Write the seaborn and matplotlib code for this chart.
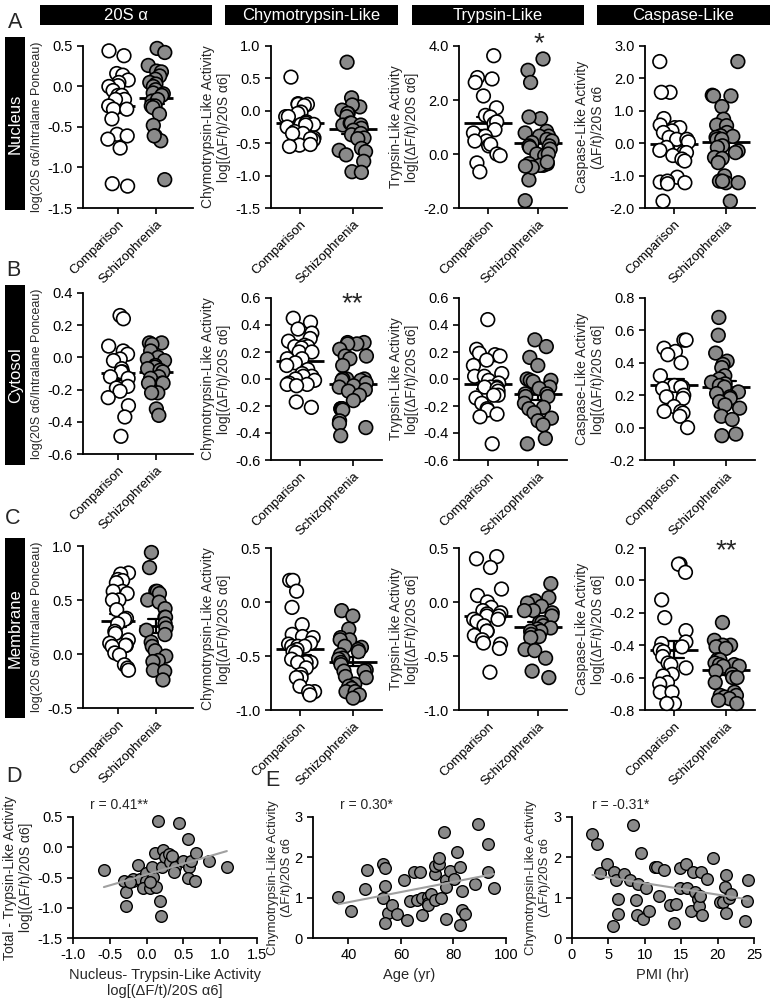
import numpy as np
import pandas as pd
import seaborn as sns
import matplotlib.pyplot as plt
from matplotlib.patches import Rectangle
from matplotlib.ticker import FormatStrFormatter

# groups / labels
groups = ['Comparison', 'Schizophrenia']
header_titles = ['20S α', 'Chymotrypsin-Like', 'Trypsin-Like', 'Caspase-Like']
row_names = ['Nucleus', 'Cytosol', 'Membrane']

# ---- Nucleus (row A)
nuc_20s_comp = [0.44, 0.38, 0.16, 0.14, 0.08, 0.05, 0.01, 0.0, -0.05, -0.11, -0.11, -0.16, -0.16, -0.24,
                -0.28, -0.28, -0.40, -0.59, -0.61, -0.65, -0.76, -1.23, -1.20]
nuc_20s_scz = [0.47, 0.42, 0.26, 0.19, 0.18, 0.13, 0.09, 0.05, 0.03, 0.0, -0.04, -0.08, -0.09, -0.11, -0.18,
               -0.16, -0.24, -0.24, -0.26, -0.34, -0.48, -0.61, -0.67, -0.61, -1.15]
nuc_chymo_comp = [0.52, 0.10, 0.11, 0.10, 0.08, -0.02, -0.04, -0.09, -0.09, -0.17, -0.21, -0.19, -0.21, -0.22,
                  -0.25, -0.32, -0.35, -0.35, -0.42, -0.45, -0.43, -0.53, -0.52, -0.55]
nuc_chymo_scz = [0.75, 0.20, 0.06, 0.09, 0.01, -0.04, -0.04, -0.09, -0.22, -0.19, -0.19, -0.22, -0.27, -0.30,
                 -0.37, -0.35, -0.42, -0.43, -0.58, -0.63, -0.61, -0.78, -0.68, -0.94, -0.95]
nuc_tryp_comp = [3.64, 2.83, 2.78, 2.65, 2.15, 1.71, 1.43, 1.37, 1.13, 1.19, 0.90, 0.78, 0.66, 0.48, 0.48,
                 0.30, 0.36, 0.0, -0.06, -0.33, -0.66]
nuc_tryp_scz = [3.52, 3.10, 2.65, 1.31, 1.37, 0.84, 0.66, 0.78, 0.66, 0.54, 0.48, 0.42, 0.30, 0.30, 0.18,
                0.24, 0.0, -0.06, 0.0, -0.36, -0.42, -0.36, -0.42, -0.96, -1.73, -0.50, -0.30, -0.45]
nuc_casp_comp = [2.52, 1.57, 1.57, 0.76, 0.56, 0.48, 0.48, 0.38, 0.33, 0.18, 0.12, 0.12, 0.04, -0.13, -0.22,
                 -0.29, -0.29, -0.38, -0.49, -0.55, -1.05, -1.22, -1.20, -1.17, -1.25, -1.79]
nuc_casp_scz = [2.52, 1.48, 1.46, 1.46, 1.13, 0.74, 0.56, 0.54, 0.33, 0.23, 0.21, 0.18, 0.12, 0.12, -0.08,
                -0.13, -0.24, -0.29, -0.44, -0.47, -0.60, -1.01, -1.17, -1.22, -1.22, -1.17, -1.79]

# ---- Cytosol (row B)
cyt_20s_comp = [0.26, 0.24, 0.07, 0.04, 0.02, -0.01, -0.02, -0.07, -0.09, -0.09, -0.12, -0.13, -0.18, -0.19,
                -0.21, -0.25, -0.30, -0.37, -0.49]
cyt_20s_scz = [0.09, 0.09, 0.08, 0.04, 0.0, -0.01, -0.02, -0.05, -0.06, -0.07, -0.08, -0.09, -0.12, -0.13,
               -0.16, -0.16, -0.16, -0.22, -0.22, -0.32, -0.36]
cyt_chymo_comp = [0.45, 0.42, 0.37, 0.34, 0.30, 0.28, 0.25, 0.24, 0.24, 0.23, 0.20, 0.20, 0.15, 0.15, 0.12,
                  0.10, 0.07, 0.04, 0.02, 0.02, 0.0, -0.01, -0.03, -0.04, -0.04, -0.05, -0.17, -0.21]
cyt_chymo_scz = [0.27, 0.27, 0.26, 0.26, 0.22, 0.17, 0.17, 0.15, 0.10, 0.0, 0.0, 0.0, -0.01, -0.01, -0.03,
                 -0.05, -0.06, -0.08, -0.09, -0.12, -0.16, -0.22, -0.22, -0.22, -0.23, -0.31, -0.33, -0.36, -0.42]
cyt_tryp_comp = [0.44, 0.22, 0.19, 0.18, 0.17, 0.14, 0.10, 0.04, 0.02, 0.02, -0.01, -0.03, -0.06, -0.06, -0.06,
                 -0.07, -0.09, -0.12, -0.12, -0.14, -0.18, -0.22, -0.23, -0.26, -0.28, -0.48]
cyt_tryp_scz = [0.29, 0.24, 0.16, 0.10, 0.0, -0.01, -0.01, -0.02, -0.06, -0.07, -0.11, -0.11, -0.13, -0.13,
                -0.18, -0.21, -0.22, -0.25, -0.29, -0.31, -0.34, -0.44, -0.48]
cyt_casp_comp = [0.54, 0.54, 0.49, 0.47, 0.45, 0.40, 0.32, 0.26, 0.25, 0.25, 0.24, 0.20, 0.19, 0.18, 0.13,
                 0.10, 0.10, 0.09, 0.07, 0.0]
cyt_casp_scz = [0.68, 0.57, 0.46, 0.41, 0.39, 0.37, 0.32, 0.30, 0.28, 0.27, 0.26, 0.25, 0.22, 0.21, 0.19,
                0.18, 0.16, 0.14, 0.12, 0.07, 0.05, -0.04, -0.05]

# ---- Membrane (row C)
mem_20s_comp = [0.75, 0.74, 0.69, 0.68, 0.66, 0.58, 0.58, 0.56, 0.50, 0.50, 0.41, 0.33, 0.32, 0.28, 0.21,
                0.19, 0.13, 0.10, 0.08, 0.08, 0.07, 0.01, -0.01, -0.10, -0.13, -0.15]
mem_20s_scz = [0.94, 0.80, 0.58, 0.58, 0.56, 0.50, 0.48, 0.42, 0.34, 0.34, 0.28, 0.24, 0.22, 0.18, 0.11,
               0.07, 0.03, -0.02, -0.06, -0.07, -0.15, -0.16, -0.24]
mem_chymo_comp = [0.20, 0.20, 0.10, -0.05, -0.21, -0.30, -0.32, -0.33, -0.38, -0.39, -0.41, -0.41, -0.41,
                  -0.44, -0.46, -0.47, -0.53, -0.56, -0.56, -0.56, -0.61, -0.67, -0.70, -0.70, -0.78, -0.83,
                  -0.83, -0.86]
mem_chymo_scz = [-0.08, -0.13, -0.25, -0.33, -0.35, -0.35, -0.41, -0.42, -0.44, -0.46, -0.49, -0.52, -0.53,
                 -0.56, -0.58, -0.63, -0.64, -0.64, -0.69, -0.70, -0.76, -0.78, -0.80, -0.83, -0.83, -0.86, -0.89]
mem_tryp_comp = [0.42, 0.40, 0.32, 0.12, 0.06, 0.0, -0.05, -0.08, -0.10, -0.11, -0.13, -0.13, -0.16, -0.16,
                 -0.18, -0.22, -0.27, -0.27, -0.31, -0.35, -0.38, -0.39, -0.43, -0.65]
mem_tryp_scz = [0.17, 0.04, 0.01, -0.01, -0.04, -0.08, -0.08, -0.10, -0.13, -0.19, -0.19, -0.22, -0.24, -0.25,
                -0.27, -0.27, -0.30, -0.32, -0.33, -0.44, -0.45, -0.52, -0.64, -0.70]
mem_casp_comp = [0.10, 0.10, 0.05, -0.12, -0.23, -0.31, -0.38, -0.39, -0.41, -0.43, -0.44, -0.47, -0.51, -0.52,
                 -0.54, -0.58, -0.59, -0.63, -0.64, -0.69, -0.69, -0.76, -0.76]
mem_casp_scz = [-0.26, -0.37, -0.40, -0.40, -0.41, -0.42, -0.49, -0.49, -0.51, -0.52, -0.52, -0.53, -0.53,
                -0.56, -0.58, -0.60, -0.60, -0.63, -0.69, -0.71, -0.71, -0.72, -0.73, -0.74, -0.76]

# ---- correlations (D, E)
nuc_tryp_x = [-0.58, -0.31, -0.28, -0.28, -0.19, -0.18, -0.12, -0.09, -0.01, -0.01, -0.05, 0.05, 0.09, 0.08,
              0.13, 0.11, 0.16, 0.18, 0.20, 0.22, 0.21, 0.25, 0.30, 0.32, 0.35, 0.39, 0.37, 0.44, 0.49, 0.56,
              0.58, 0.60, 0.56, 0.66, 0.67, 0.85, 1.09, -0.23, 0.04]
total_tryp_y = [-0.37, -0.55, -0.74, -0.97, -0.55, -0.53, -0.30, -0.53, -0.43, -0.55, -0.68, -0.68, -0.49,
                -0.32, -0.65, -0.09, 0.43, -0.89, -1.13, -0.04, -0.33, -0.16, -0.11, -0.24, -0.15, -0.33,
                -0.41, 0.40, -0.23, 0.13, -0.33, -0.23, -0.50, -0.55, -0.10, -0.23, -0.33, -0.57, -0.57]
age = [36.2, 41.0, 47.0, 46.2, 53.2, 54.1, 54.1, 53.2, 55.1, 54.1, 56.4, 58.6, 61.2, 62.2, 63.5, 65.0, 66.0,
       67.3, 68.2, 68.2, 70.2, 70.2, 70.2, 71.4, 73.1, 73.1, 73.1, 74.4, 74.4, 75.3, 76.3, 77.2, 77.2, 77.2,
       78.5, 80.1, 81.4, 82.3, 82.3, 83.2, 83.2, 84.2, 88.3, 89.4, 93.2, 93.2, 95.4]
chymo_age = [1.02, 0.67, 1.69, 1.22, 1.84, 1.74, 1.28, 0.98, 0.62, 0.38, 0.83, 0.60, 1.45, 0.44, 0.91, 1.64,
             0.93, 1.64, 0.98, 0.58, 1.02, 0.87, 0.81, 1.10, 0.93, 1.59, 1.79, 1.84, 1.99, 0.98, 2.63, 1.45,
             1.26, 0.48, 1.65, 1.47, 2.13, 1.76, 0.31, 1.16, 0.70, 0.59, 1.35, 2.83, 2.34, 1.64, 1.24]
pmi = [2.81, 3.5, 3.82, 4.74, 5.8, 6.1, 6.26, 6.35, 5.66, 7.18, 8.0, 8.43, 9.02, 8.8, 8.89, 9.48, 9.7, 10.2,
       10.6, 11.4, 11.7, 12.0, 12.7, 13.5, 13.95, 14.3, 14.8, 14.8, 15.7, 15.8, 16.3, 16.6, 16.9, 17.3, 17.4,
       17.6, 17.7, 17.9, 18.6, 19.3, 20.3, 20.7, 21.0, 21.2, 21.2, 21.6, 21.9, 23.8, 24.1, 24.2]
chymo_pmi = [2.59, 2.32, 1.61, 1.84, 1.64, 1.43, 0.97, 0.59, 0.30, 1.59, 1.45, 2.81, 1.33, 0.94, 0.57, 2.10,
             0.47, 1.23, 0.67, 1.76, 1.77, 1.03, 1.68, 0.82, 0.37, 0.84, 1.73, 1.23, 1.84, 1.25, 0.67, 1.64,
             1.14, 0.96, 0.80, 1.03, 1.64, 0.58, 1.47, 1.99, 0.90, 0.90, 1.27, 1.56, 0.61, 0.98, 1.08, 0.43,
             0.92, 1.45]

ylab_20s = 'log(20S α6/Intralane Ponceau)'
ylab_chymo = 'Chymotrypsin-Like Activity\nlog[(ΔF/t)/20S α6]'
ylab_tryp = 'Trypsin-Like Activity\nlog[(ΔF/t)/20S α6]'
ylab_casp_lin = 'Caspase-Like Activity\n(ΔF/t)/20S α6'
ylab_casp = 'Caspase-Like Activity\nlog[(ΔF/t)/20S α6]'
ylab_chymo_lin = 'Chymotrypsin-Like Activity\n(ΔF/t)/20S α6'

panels = [
    [(nuc_20s_comp, nuc_20s_scz), (nuc_chymo_comp, nuc_chymo_scz), (nuc_tryp_comp, nuc_tryp_scz), (nuc_casp_comp, nuc_casp_scz)],
    [(cyt_20s_comp, cyt_20s_scz), (cyt_chymo_comp, cyt_chymo_scz), (cyt_tryp_comp, cyt_tryp_scz), (cyt_casp_comp, cyt_casp_scz)],
    [(mem_20s_comp, mem_20s_scz), (mem_chymo_comp, mem_chymo_scz), (mem_tryp_comp, mem_tryp_scz), (mem_casp_comp, mem_casp_scz)],
]
ylabels = [
    [ylab_20s, ylab_chymo, ylab_tryp, ylab_casp_lin],
    [ylab_20s, ylab_chymo, ylab_tryp, ylab_casp],
    [ylab_20s, ylab_chymo, ylab_tryp, ylab_casp],
]
# (low, high, step)
yscales = [
    [(-1.5, 0.5, 0.5), (-1.5, 1.0, 0.5), (-2, 4, 2), (-2, 3, 1)],
    [(-0.6, 0.4, 0.2), (-0.6, 0.6, 0.2), (-0.6, 0.6, 0.2), (-0.2, 0.8, 0.2)],
    [(-0.5, 1.0, 0.5), (-1.0, 0.5, 0.5), (-1.0, 0.5, 0.5), (-0.8, 0.2, 0.2)],
]
stars = {(0, 2): ('*', 0.97), (1, 1): ('**', 0.92), (2, 3): ('**', 0.94)}

sns.set_style('ticks')
plt.rcParams['font.family'] = ['Liberation Sans', 'DejaVu Sans']
plt.rcParams['axes.unicode_minus'] = False
plt.rcParams['axes.linewidth'] = 1.3
plt.rcParams['axes.edgecolor'] = 'black'
plt.rcParams['xtick.color'] = 'black'
plt.rcParams['ytick.color'] = 'black'

W, H = 775, 1000
fig = plt.figure(figsize=(7.75, 10), dpi=100)


def px_axes(left, top, right, bottom):
    return fig.add_axes([left / W, 1 - bottom / H, (right - left) / W, (bottom - top) / H])


col_x = [(83, 193), (271, 382), (459, 567), (645, 755)]
row_y = [[(46, 208)] * 4,
         [(293, 454)] + [(298, 460)] * 3,
         [(546, 708)] + [(548, 710)] * 3]
col_xlim = [(-0.92, 1.97), (-0.56, 1.56), (-0.56, 1.56), (-0.56, 1.56)]
mean_len = [25, 34, 34, 34]
palette = {'Comparison': 'white', 'Schizophrenia': '#8a8a8a'}

np.random.seed(7)
for r in range(3):
    for c in range(4):
        comp, scz = panels[r][c]
        df = pd.DataFrame({'group': ['Comparison'] * len(comp) + ['Schizophrenia'] * len(scz),
                           'value': comp + scz})
        top, bottom = row_y[r][c]
        ax = px_axes(col_x[c][0], top, col_x[c][1], bottom)
        sns.stripplot(data=df, x='group', y='value', hue='group', order=groups, hue_order=groups,
                      palette=palette, jitter=0.28, size=9.8, edgecolor='black', linewidth=1.2,
                      legend=False, clip_on=False, ax=ax)
        sns.pointplot(data=df, x='group', y='value', order=groups, errorbar='se', capsize=0.4,
                      color='black', markers='_', markersize=mean_len[c], markeredgewidth=2.0,
                      linestyles='none', err_kws={'linewidth': 1.6}, ax=ax)
        lo, hi, step = yscales[r][c]
        ax.set_ylim(lo, hi)
        ax.set_yticks(np.round(np.arange(lo, hi + step / 2, step), 2) + 0.0)
        ax.yaxis.set_major_formatter(FormatStrFormatter('%.1f'))
        ax.set_xlim(*col_xlim[c])
        ax.set_xlabel('')
        ax.set_ylabel(ylabels[r][c], fontsize=9 if c == 0 else 10, labelpad=3)
        ax.tick_params(axis='both', length=4, width=1.2, labelsize=10.5)
        for lab in ax.get_xticklabels():
            lab.set_rotation(45)
            lab.set_ha('right')
            lab.set_rotation_mode('anchor')
            lab.set_fontsize(9.5)
        sns.despine(ax=ax)
        if (r, c) in stars:
            txt, yy = stars[(r, c)]
            ax.text(1, yy, txt, transform=ax.get_xaxis_transform(), ha='center', va='baseline',
                    fontsize=20)

# headers
header_x = [(40, 212), (225, 398), (412, 584), (597, 770)]
for (x0, x1), title in zip(header_x, header_titles):
    fig.add_artist(Rectangle((x0 / W, 1 - 25 / H), (x1 - x0) / W, 20 / H, transform=fig.transFigure,
                             facecolor='black', edgecolor='none'))
    fig.text((x0 + x1) / 2 / W, 1 - 15.5 / H, title, color='white', ha='center', va='center', fontsize=12)

side_y = [(37, 210), (285, 465), (538, 718)]
for (y0, y1), name in zip(side_y, row_names):
    fig.add_artist(Rectangle((5 / W, 1 - y1 / H), 20 / W, (y1 - y0) / H, transform=fig.transFigure,
                             facecolor='black', edgecolor='none'))
    fig.text(15.5 / W, 1 - (y0 + y1) / 2 / H, name, color='white', ha='center', va='center',
             rotation=90, fontsize=12)

for letter, x, y in [('A', 15, 22), ('B', 13, 271), ('C', 13, 518), ('D', 14, 776), ('E', 272, 781)]:
    fig.text(x / W, 1 - y / H, letter, ha='center', va='center', fontsize=15.5)

# correlation panels
scat_kws = {'s': 70, 'edgecolor': 'black', 'linewidths': 1.0, 'alpha': 1, 'clip_on': False}
line_kws = {'color': '#a0a0a0', 'linewidth': 1.5}
corr = [
    (nuc_tryp_x, total_tryp_y, (73, 817, 257, 938), (-1.0, 1.5), np.arange(-1.0, 1.51, 0.5),
     (-1.5, 0.5), np.arange(-1.5, 0.51, 0.5), 'Nucleus- Trypsin-Like Activity\nlog[(ΔF/t)/20S α6]',
     'Total - Trypsin-Like Activity\nlog[(ΔF/t)/20S α6]', 'r = 0.41**', 0.09, '%.1f', None),
    (age, chymo_age, (313, 817, 506, 938), (26.5, 100), [40, 60, 80, 100], (0, 3), [0, 1, 2, 3],
     'Age (yr)', ylab_chymo_lin, 'r = 0.30*', 0.14, '%d', -0.105),
    (pmi, chymo_pmi, (572, 817, 754, 938), (0, 25), [0, 5, 10, 15, 20, 25], (0, 3), [0, 1, 2, 3],
     'PMI (hr)', ylab_chymo_lin, 'r = -0.31*', 0.11, '%d', -0.115),
]
for xs, ys, box, xlim, xt, ylim, yt, xl, yl, rtxt, rx, fmt, lab_x in corr:
    ax = px_axes(*box)
    sns.regplot(x=np.array(xs), y=np.array(ys), ci=None, color='#8a8a8a', scatter_kws=scat_kws,
                line_kws=line_kws, ax=ax)
    ax.set_xlim(*xlim)
    ax.set_ylim(*ylim)
    ax.set_xticks(xt)
    ax.set_yticks(yt)
    ax.xaxis.set_major_formatter(FormatStrFormatter(fmt))
    ax.yaxis.set_major_formatter(FormatStrFormatter(fmt))
    ax.set_xlabel(xl, fontsize=10.5)
    ax.set_ylabel(yl, fontsize=9.5 if lab_x is not None else 10, labelpad=3)
    if lab_x is not None:
        ax.yaxis.set_label_coords(lab_x, 0.5)
    ax.tick_params(axis='both', length=4, width=1.2, labelsize=10.5)
    ax.text(rx, 1.1, rtxt, transform=ax.transAxes, ha='left', va='center', fontsize=10)
    sns.despine(ax=ax)

fig.savefig('out.png', dpi=100)
